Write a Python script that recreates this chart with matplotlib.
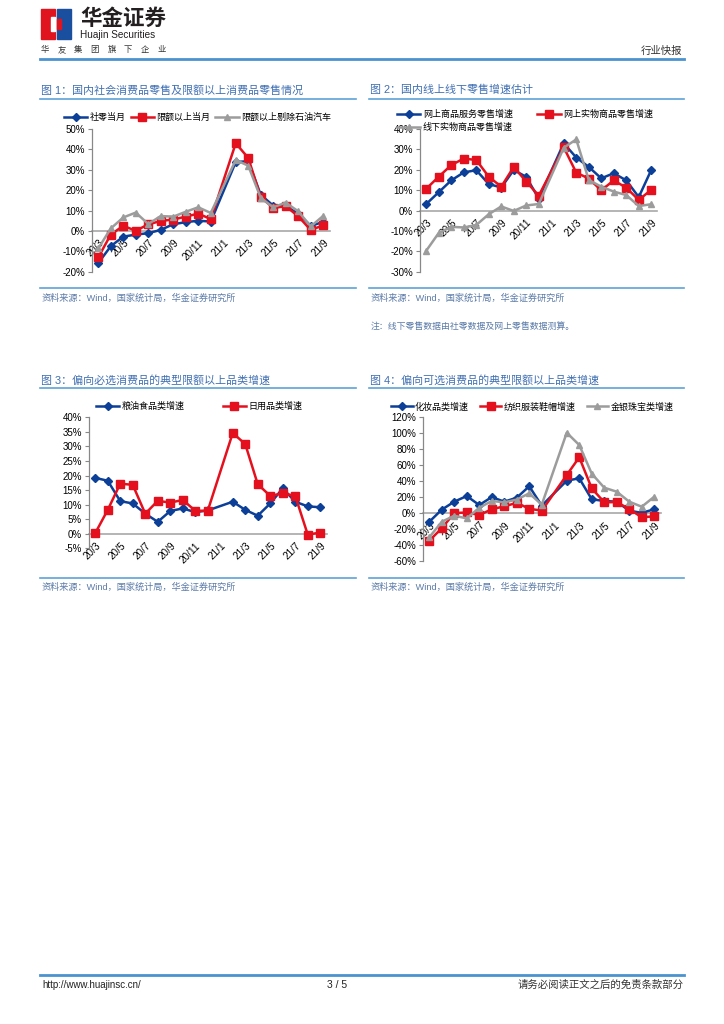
import numpy as np
import matplotlib.pyplot as plt
from matplotlib.lines import Line2D
from matplotlib.patches import Rectangle
from matplotlib.ticker import FuncFormatter

plt.rcParams['font.family'] = ['Liberation Sans', 'Noto Sans CJK SC', 'DejaVu Sans']

nan = np.nan

# months on the category axis (21/1 has no single-month figure, Jan-Feb are reported together)
months = ['20/3', '20/4', '20/5', '20/6', '20/7', '20/8', '20/9', '20/10', '20/11', '20/12',
          '21/1', '21/2', '21/3', '21/4', '21/5', '21/6', '21/7', '21/8', '21/9']

# Fig 1
retail_month = [-15.8, -7.5, -2.8, -1.8, -1.1, 0.5, 3.3, 4.3, 5.0, 4.6,
                nan, 33.8, 34.2, 17.7, 12.4, 12.1, 8.5, 2.5, 4.4]
quota_month = [-13.0, -1.8, 2.5, 0.1, 3.2, 4.9, 5.6, 7.0, 8.5, 5.8,
               nan, 43.0, 35.8, 16.6, 11.3, 12.1, 7.2, 0.4, 2.8]
quota_ex_oil_auto = [-8.6, 1.2, 6.6, 9.0, 3.4, 7.3, 7.0, 9.4, 11.6, 8.8,
                     nan, 34.8, 32.0, 16.2, 11.6, 13.9, 9.6, 2.2, 7.4]

# Fig 2
online_all = [3.2, 9.0, 14.8, 18.7, 19.8, 13.0, 11.3, 19.9, 16.5, 5.8,
              nan, 33.0, 26.0, 21.4, 15.8, 18.3, 14.8, 6.6, 19.9]
online_goods = [10.7, 16.6, 22.3, 25.5, 24.8, 16.6, 11.7, 21.4, 14.2, 7.3,
                nan, 31.0, 18.6, 15.7, 9.9, 14.8, 11.2, 5.2, 10.2]
offline_goods = [-19.7, -11.0, -8.0, -8.3, -7.1, -1.8, 2.0, -0.2, 2.5, 3.2,
                 nan, 30.8, 34.9, 15.0, 11.7, 9.3, 7.6, 2.2, 3.1]

# Fig 3
grain_oil_food = [19.2, 18.2, 11.2, 10.4, 6.9, 4.1, 7.8, 8.7, 7.4, 8.0,
                  nan, 11.0, 8.2, 6.2, 10.4, 15.6, 11.0, 9.4, 9.1]
daily_goods = [0.2, 8.2, 17.2, 16.8, 6.9, 11.3, 10.7, 11.6, 7.9, 7.9,
               nan, 34.6, 30.8, 17.0, 13.0, 13.9, 13.0, -0.3, 0.4]

# Fig 4
cosmetics = [-10.9, 4.3, 14.3, 21.4, 10.1, 20.1, 14.3, 19.3, 33.6, 9.3,
             nan, 40.6, 43.6, 17.3, 15.2, 14.3, 3.0, 0.3, 4.8]
apparel = [-34.6, -19.0, 0.0, 0.8, -2.4, 4.8, 8.5, 12.8, 5.5, 3.0,
           nan, 47.7, 69.9, 31.0, 13.5, 13.8, 5.1, -5.3, -4.0]
jewelry = [-30.4, -10.9, -3.3, -6.6, 6.7, 15.2, 13.5, 16.9, 24.8, 10.5,
           nan, 100.7, 85.3, 49.4, 31.8, 26.8, 14.3, 8.0, 20.5]

BLUE = '#0c3f98'
RED = '#e5101d'
GRAY = '#9c9c9c'
STYLES = [(BLUE, 'D', 3.9), (RED, 's', 5.6), (GRAY, '^', 4.8)]
TITLE_C = '#3f6fb2'
SRC_C = '#5a7aa8'
RULE_C = '#5fa2d8'

W, H = 724, 1024
fig = plt.figure(figsize=(W / 100, H / 100), dpi=100)


def fx(x):
    return x / W


def fy(y):
    return 1 - y / H


def hline(x0, x1, y, color, lw):
    fig.add_artist(Line2D([fx(x0), fx(x1)], [fy(y), fy(y)], transform=fig.transFigure,
                          color=color, lw=lw))


def text(x, y, s, **kw):
    kw.setdefault('va', 'center')
    fig.text(fx(x), fy(y), s, **kw)


def chart(box, series, names, ylim, step, leg_xy, ncol, colsp, order=None, hlen=2.6):
    x0, y0, x1, y1 = box
    ax = fig.add_axes([fx(x0), fy(y1), (x1 - x0) / W, (y1 - y0) / H])
    ax.patch.set_alpha(0)
    x = np.arange(len(months))
    handles = []
    for vals, (color, marker, ms) in zip(series, STYLES):
        v = np.array(vals, dtype=float)
        ok = ~np.isnan(v)
        h, = ax.plot(x[ok], v[ok], color=color, marker=marker, ms=ms, lw=1.8,
                     clip_on=False)
        handles.append(h)
    ax.set_xlim(-0.5, len(months) - 0.5)
    ax.set_ylim(*ylim)
    ax.set_yticks(np.arange(ylim[0], ylim[1] + 0.1, step))
    ax.yaxis.set_major_formatter(FuncFormatter(lambda v, p: f'{v:.0f}%'))
    ax.tick_params(axis='y', direction='out', length=3, width=0.8, color='#888888',
                   labelsize=7, pad=2)
    for s in ['top', 'right']:
        ax.spines[s].set_visible(False)
    ax.spines['left'].set_color('#888888')
    ax.spines['left'].set_linewidth(0.9)
    ax.spines['bottom'].set_position(('data', 0))
    ax.spines['bottom'].set_color('#a8a8a8')
    ax.spines['bottom'].set_linewidth(1.2)
    ax.spines['bottom'].set_zorder(0.5)
    ax.set_xticks(x[::2])
    ax.set_xticklabels(months[::2], rotation=45, ha='right', va='top',
                       rotation_mode='anchor', fontsize=7.2)
    ax.tick_params(axis='x', length=0, pad=5)
    idx = order if order else range(len(handles))
    ax.legend([handles[i] for i in idx], [names[i] for i in idx],
              loc='center left', bbox_to_anchor=(fx(leg_xy[0]), fy(leg_xy[1])),
              bbox_transform=fig.transFigure, ncol=ncol, frameon=False, fontsize=6.5,
              handlelength=hlen, handletextpad=0.25, columnspacing=colsp,
              borderpad=0, borderaxespad=0, labelspacing=0.45)
    return ax


# header
fig.add_artist(Rectangle((fx(41), fy(39)), 14 / W, 30 / H, transform=fig.transFigure,
                         color='#e0141e'))
fig.add_artist(Rectangle((fx(57), fy(39)), 14 / W, 30 / H, transform=fig.transFigure,
                         color='#1a4fa0'))
fig.add_artist(Rectangle((fx(51), fy(31)), 4 / W, 14 / H, transform=fig.transFigure,
                         color='white'))
fig.add_artist(Rectangle((fx(57), fy(29)), 4 / W, 10 / H, transform=fig.transFigure,
                         color='#e0141e'))
text(80, 19, '华金证券', fontsize=15.5, fontweight='bold', color='#231f20')
text(80, 35, 'Huajin Securities', fontsize=7.2, color='#231f20')
for i, ch in enumerate('华友集团旗下企业'):
    text(45 + i * 16.6, 50, ch, fontsize=6, color='#333333', ha='center')
text(682, 50.5, '行业快报', fontsize=7.5, color='#333333', ha='right')
hline(40, 684, 59, '#4a93cf', 2)

# titles
text(41, 90, '图 1：国内社会消费品零售及限额以上消费品零售情况', fontsize=7.9, color=TITLE_C)
text(370, 90, '图 2：国内线上线下零售增速估计', fontsize=7.9, color=TITLE_C)
text(41, 380, '图 3：偏向必选消费品的典型限额以上品类增速', fontsize=7.9, color=TITLE_C)
text(370, 380, '图 4：偏向可选消费品的典型限额以上品类增速', fontsize=7.9, color=TITLE_C)
for xa, xb in [(40, 356), (369, 684)]:
    hline(xa, xb, 98.5, RULE_C, 1.2)
    hline(xa, xb, 387.7, RULE_C, 1.2)
    hline(xa, xb, 288, RULE_C, 1.2)
    hline(xa, xb, 577.7, RULE_C, 1.2)

src = '资料来源：Wind，国家统计局，华金证券研究所'
text(42, 298.3, src, fontsize=6.6, color=SRC_C)
text(371, 298.3, src, fontsize=6.6, color=SRC_C)
text(371, 326.7, '注：线下零售数据由社零数据及网上零售数据测算。', fontsize=6.4, color=SRC_C)
text(42, 587, src, fontsize=6.6, color=SRC_C)
text(371, 587, src, fontsize=6.6, color=SRC_C)

# charts
chart((92, 129, 329.5, 271.7), [retail_month, quota_month, quota_ex_oil_auto],
      ['社零当月', '限额以上当月', '限额以上剔除石油汽车'], (-20, 50), 10,
      (64, 117.7), 3, 0.55)
chart((420, 129, 657.5, 271.7), [online_all, online_goods, offline_goods],
      ['网上商品服务零售增速', '网上实物商品零售增速', '线下实物商品零售增速'],
      (-30, 40), 10, (397, 120.8), 2, 2.7, order=[0, 2, 1])
chart((89, 417.3, 326.5, 548.3), [grain_oil_food, daily_goods],
      ['粮油食品类增速', '日用品类增速'], (-5, 40), 5, (96, 406.7), 2, 4.2)
chart((423, 417.3, 660.5, 561), [cosmetics, apparel, jewelry],
      ['化妆品类增速', '纺织服装鞋帽增速', '金银珠宝类增速'], (-60, 120), 20,
      (391, 406.7), 3, 1.2, hlen=2.4)

# footer
hline(40, 684, 975, '#4a93cf', 2)
text(42.5, 984.5, 'http://www.huajinsc.cn/', fontsize=7, color='#222222')
text(337, 984.5, '3 / 5', fontsize=7.5, color='#222222', ha='center')
text(684, 984.5, '请务必阅读正文之后的免责条款部分', fontsize=7.5, color='#333333', ha='right')

fig.savefig('out.png', dpi=100)
